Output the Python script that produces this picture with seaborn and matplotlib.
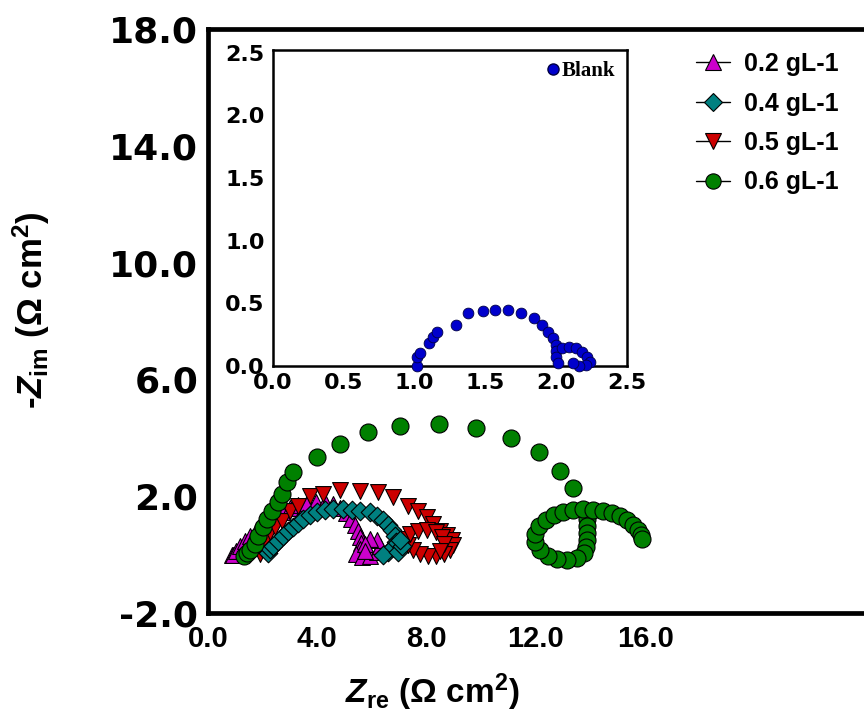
import matplotlib
matplotlib.use('Agg')
import matplotlib.pyplot as plt
import seaborn as sns
from matplotlib.lines import Line2D
from matplotlib.font_manager import FontProperties

# ---------------- data ----------------
labels = ['0.2 gL-1', '0.4 gL-1', '0.5 gL-1', '0.6 gL-1']

zre_02 = [0.88, 0.91, 1.02, 1.17, 1.35, 1.54, 1.76, 1.98, 2.20, 2.45, 2.71, 3.00, 3.29, 3.62, 3.95,
          4.28, 4.57, 4.83, 5.05, 5.23, 5.38, 5.49, 5.56, 5.60, 5.56, 5.42, 5.64, 5.93, 6.18, 6.29,
          6.18, 5.93, 5.75, 5.75]
zim_02 = [-0.03, -0.01, 0.12, 0.29, 0.47, 0.64, 0.81, 0.98, 1.15, 1.32, 1.46, 1.60, 1.70, 1.77, 1.80,
          1.80, 1.73, 1.60, 1.42, 1.22, 1.01, 0.81, 0.60, 0.40, 0.19, 0.02, -0.08, -0.05, 0.09, 0.29,
          0.50, 0.53, 0.36, 0.12]

zre_04 = [2.20, 2.27, 2.38, 2.56, 2.74, 2.93, 3.11, 3.29, 3.48, 3.73, 3.99, 4.28, 4.57, 4.94, 5.27,
          5.56, 5.93, 6.18, 6.40, 6.59, 6.73, 6.84, 6.88, 6.77, 6.59, 6.40, 6.95, 7.10, 7.03]
zim_04 = [0.05, 0.19, 0.29, 0.47, 0.64, 0.81, 0.95, 1.08, 1.22, 1.36, 1.46, 1.53, 1.56, 1.56, 1.53,
          1.49, 1.46, 1.32, 1.18, 1.01, 0.84, 0.64, 0.43, 0.26, 0.09, -0.01, 0.09, 0.29, 0.50]

zre_05 = [1.90, 1.98, 2.09, 2.27, 2.45, 2.71, 3.00, 3.29, 3.73, 4.21, 4.83, 5.56, 6.22, 6.77, 7.32,
          7.68, 8.01, 8.23, 8.49, 8.74, 8.93, 8.96, 8.85, 8.64, 8.34, 8.05, 7.76, 7.50, 7.32, 7.24,
          7.39, 7.68, 8.01, 8.34, 8.56, 8.64, 8.49]
zim_05 = [0.02, 0.19, 0.47, 0.77, 0.95, 1.15, 1.49, 1.66, 2.01, 2.08, 2.21, 2.18, 2.14, 1.97, 1.66,
          1.49, 1.29, 1.05, 0.81, 0.67, 0.50, 0.33, 0.16, 0.02, -0.05, -0.05, 0.02, 0.16, 0.33, 0.53,
          0.71, 0.81, 0.84, 0.77, 0.60, 0.36, 0.12]

zre_06 = [1.30, 1.43, 1.54, 1.72, 1.83, 2.01, 2.16, 2.34, 2.56, 2.71, 2.89, 3.11, 3.99, 4.83, 5.85,
          7.03, 8.45, 9.80, 11.09, 12.11, 12.88, 13.36,
          13.87, 13.87, 13.87, 13.87, 13.87, 13.83, 13.76, 13.50, 13.14, 12.77, 12.44, 12.15, 11.96,
          11.96, 12.11, 12.37, 12.66, 12.99, 13.36, 13.72, 14.09, 14.45, 14.78, 15.07, 15.33, 15.55,
          15.73, 15.84, 15.88]
zim_06 = [-0.05, 0.05, 0.14, 0.36, 0.64, 0.95, 1.22, 1.49, 1.80, 2.08, 2.49, 2.83, 3.34, 3.79, 4.20,
          4.40, 4.47, 4.34, 3.99, 3.51, 2.86, 2.28,
          1.46, 1.22, 0.98, 0.74, 0.50, 0.26, 0.05, -0.12, -0.18, -0.15, -0.05, 0.16, 0.43,
          0.71, 0.98, 1.18, 1.36, 1.46, 1.53, 1.56, 1.53, 1.49, 1.42, 1.32, 1.18, 1.01,
          0.84, 0.67, 0.53]

blank_zre = [1.02, 1.02, 1.04, 1.10, 1.13, 1.16, 1.29, 1.38, 1.48, 1.57, 1.66, 1.75, 1.84, 1.90,
             1.94, 1.98, 2.00, 2.00, 2.00, 2.01, 2.04, 2.09, 2.14, 2.18, 2.22, 2.24, 2.21, 2.16, 2.12]
blank_zim = [0.00, 0.07, 0.10, 0.18, 0.23, 0.27, 0.33, 0.42, 0.44, 0.45, 0.45, 0.42, 0.38, 0.33,
             0.27, 0.22, 0.17, 0.12, 0.07, 0.02, 0.14, 0.15, 0.14, 0.11, 0.07, 0.03, 0.01, 0.00, 0.02]

main_xticks = [0, 4, 8, 12, 16]
main_yticks = [-2, 2, 6, 10, 14, 18]
inset_ticks = [0.0, 0.5, 1.0, 1.5, 2.0, 2.5]

# ---------------- style ----------------
sns.set_style('white')
plt.rcParams['font.family'] = ['Liberation Sans', 'DejaVu Sans']
plt.rcParams['mathtext.fontset'] = 'custom'
plt.rcParams['mathtext.it'] = 'Liberation Sans:italic:bold'
plt.rcParams['mathtext.rm'] = 'Liberation Sans:bold'
plt.rcParams['mathtext.bf'] = 'Liberation Sans:bold'
for k in ['text.color', 'axes.labelcolor', 'xtick.color', 'ytick.color', 'axes.edgecolor']:
    plt.rcParams[k] = 'black'

colors = ['#CC00CC', '#008080', '#CC0000', '#008000']
markers = ['^', 'D', 'v', 'o']
sizes = [130, 90, 130, 150]

fig = plt.figure(figsize=(8.64, 7.15), dpi=100)
ax = fig.add_axes([0.2407, 0.1427, 0.7593, 0.8168])

series = [(zre_02, zim_02), (zre_04, zim_04), (zre_05, zim_05), (zre_06, zim_06)]
order = [0, 2, 1, 3]
for z, i in enumerate(order):
    xs, ys = series[i]
    sns.scatterplot(x=xs, y=ys, ax=ax, marker=markers[i], s=sizes[i], color=colors[i],
                    edgecolor='black', linewidth=0.8, zorder=3 + z, legend=False)

ax.set_xlim(0, 24)
ax.set_ylim(-2, 18)
ax.set_xticks(main_xticks, labels=[f'{v:.1f}' for v in main_xticks],
              fontsize=21, fontweight='bold', family='Liberation Sans', color='black')
ax.set_yticks(main_yticks, labels=[f'{v:.1f}' for v in main_yticks],
              fontsize=26, fontweight='bold', family='DejaVu Sans', color='black')
ax.tick_params(axis='both', direction='in', length=7, width=3, color='black')
ax.tick_params(axis='x', pad=9)
ax.tick_params(axis='y', pad=7)
for sp in ['left', 'bottom', 'top']:
    ax.spines[sp].set_linewidth(3.4)
    ax.spines[sp].set_color('black')
ax.spines['right'].set_visible(False)
ax.set_xlabel('')
ax.set_ylabel('')

handles = [Line2D([0], [0], color='black', lw=1.0, marker=markers[i], markersize=11 if i != 1 else 9,
                  markerfacecolor=colors[i], markeredgecolor='black', markeredgewidth=0.8)
           for i in range(4)]
fig.legend(handles=handles, labels=labels, loc='upper left',
           bbox_to_anchor=(696 / 864, 1 - 52 / 715), frameon=False,
           prop=FontProperties(family='Liberation Sans', weight='bold', size=18),
           handlelength=1.35, handletextpad=0.55, labelspacing=0.62, borderpad=0, borderaxespad=0)

fig.text(31 / 864, 1 - 310 / 715, r'-$Z_{\mathrm{im}}$ (Ω cm$^{2}$)', rotation=90,
         ha='center', va='center', fontsize=25, fontweight='bold', color='black')
fig.text(432 / 864, 1 - 703 / 715, r'$Z_{\mathrm{re}}$ (Ω cm$^{2}$)',
         ha='center', va='baseline', fontsize=24, fontweight='bold', color='black')

# ---------------- inset ----------------
axi = fig.add_axes([273 / 864, (715 - 366) / 715, (627 - 273) / 864, (366 - 50) / 715])
axi.set_facecolor('white')
sns.scatterplot(x=blank_zre, y=blank_zim, ax=axi, marker='o', s=60, color='#0000CC',
                edgecolor='#000044', linewidth=0.6, clip_on=False, zorder=3, legend=False)
axi.set_xlim(0, 2.5)
axi.set_ylim(0, 2.52)
axi.set_xticks(inset_ticks, labels=[f'{v:.1f}' for v in inset_ticks],
               fontsize=16, fontweight='bold', family='DejaVu Sans', color='black')
axi.set_yticks(inset_ticks, labels=[f'{v:.1f}' for v in inset_ticks],
               fontsize=16, fontweight='bold', family='DejaVu Sans', color='black')
axi.tick_params(axis='both', direction='in', length=3, width=1.5, color='black')
axi.tick_params(axis='x', pad=5)
axi.tick_params(axis='y', pad=6)
for sp in axi.spines.values():
    sp.set_linewidth(1.8)
    sp.set_color('black')
axi.set_xlabel('')
axi.set_ylabel('')
bh = [Line2D([0], [0], ls='none', marker='o', markersize=8, markerfacecolor='#0000CC',
             markeredgecolor='#000044')]
axi.legend(handles=bh, labels=['Blank'], loc='upper right', frameon=False,
           prop=FontProperties(family='Liberation Serif', weight='bold', size=15),
           handlelength=0.6, handletextpad=0.15, borderpad=0, borderaxespad=0.55)

fig.savefig('out.png', dpi=100)
